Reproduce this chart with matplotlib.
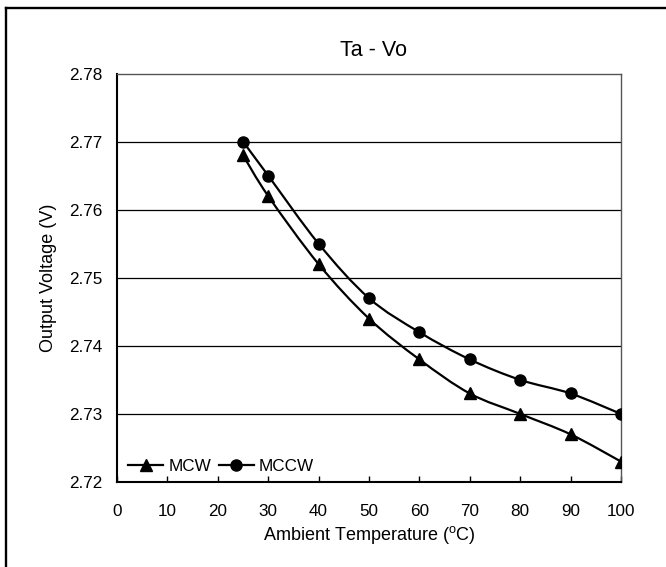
import numpy as np
import matplotlib
matplotlib.use("Agg")
import matplotlib.pyplot as plt
from matplotlib.path import Path
from matplotlib.patches import PathPatch
from matplotlib.lines import Line2D

# ---- data ----
temperature = [25, 30, 40, 50, 60, 70, 80, 90, 100]
mcw = [2.768, 2.762, 2.752, 2.744, 2.738, 2.733, 2.730, 2.727, 2.723]
mccw = [2.770, 2.765, 2.755, 2.747, 2.742, 2.738, 2.735, 2.733, 2.730]
x_ticks = [0, 10, 20, 30, 40, 50, 60, 70, 80, 90, 100]
y_ticks = [2.72, 2.73, 2.74, 2.75, 2.76, 2.77, 2.78]
title = "Ta - Vo"
x_label = r"Ambient Temperature ($^{\mathregular{o}}$C)"
y_label = "Output Voltage (V)"
series_names = ["MCW", "MCCW"]

plt.rcParams["font.family"] = ["Liberation Sans", "DejaVu Sans"]
plt.rcParams["mathtext.fontset"] = "custom"
plt.rcParams["mathtext.rm"] = "Liberation Sans"
plt.rcParams["mathtext.it"] = "Liberation Sans:italic"

W, H = 666, 567
fig = plt.figure(figsize=(W / 100, H / 100), dpi=100)
L, R, T, B = 117, 621, 73.5, 482
ax = fig.add_axes([L / W, 1 - B / H, (R - L) / W, (B - T) / H])


def smooth_path(xs, ys):
    P = np.column_stack([xs, ys]).astype(float)
    n = len(P)
    verts = [P[0]]
    codes = [Path.MOVETO]
    for i in range(n - 1):
        p0 = P[i - 1] if i > 0 else P[i]
        p1 = P[i]
        p2 = P[i + 1]
        p3 = P[i + 2] if i + 2 < n else P[i + 1]
        c1 = p1 + (p2 - p0) / 6.0
        c2 = p2 - (p3 - p1) / 6.0
        verts += [c1, c2, p2]
        codes += [Path.CURVE4] * 3
    return Path(verts, codes)


for ys, mk, ms in [(mcw, "^", 9), (mccw, "o", 8)]:
    ax.add_patch(PathPatch(smooth_path(temperature, ys), fill=False,
                           edgecolor="black", lw=1.6, zorder=3))
    ax.plot(temperature, ys, linestyle="none", marker=mk, ms=ms,
            color="black", zorder=4)

ax.set_xlim(0, 100)
ax.set_ylim(2.72, 2.78)
ax.set_xticks(x_ticks)
ax.set_yticks(y_ticks)
ax.set_yticklabels([f"{v:.2f}" for v in y_ticks])
ax.tick_params(axis="x", direction="in", length=4, width=1, pad=15.5,
               labelsize=12.3, color="black")
ax.tick_params(axis="y", length=0, pad=10.8, labelsize=12.3)

for v in y_ticks[1:-1]:
    ax.axhline(v, color="black", lw=0.9, zorder=1)

for s in ["left", "bottom"]:
    ax.spines[s].set_linewidth(1.5)
    ax.spines[s].set_color("black")
for s in ["top", "right"]:
    ax.spines[s].set_linewidth(1.0)
    ax.spines[s].set_color("#555555")

ax.set_xlabel(x_label, fontsize=13, va="center")
ax.xaxis.set_label_coords(0.5, (B - 535) / (B - T))
ax.set_ylabel(y_label, fontsize=13, va="center")
ax.yaxis.set_label_coords((48.5 - L) / (R - L), 0.5)

ax.text((374 - L) / (R - L), (B - 50.5) / (B - T), title, transform=ax.transAxes,
        ha="center", va="center", fontsize=15.5)

handles = [Line2D([], [], color="black", lw=1.6, marker="^", ms=9),
           Line2D([], [], color="black", lw=1.6, marker="o", ms=8)]
ax.legend(handles, series_names, loc="center left",
          bbox_to_anchor=((128 - L) / (R - L), (B - 466.5) / (B - T)),
          ncol=2, frameon=False, borderpad=0, borderaxespad=0,
          handlelength=2.05, handletextpad=0.3, columnspacing=0.45,
          fontsize=12.3)

# figure frame (left and top edges visible)
fig.add_artist(Line2D([6.2 / W, 6.2 / W], [0, 1 - 8 / H], transform=fig.transFigure,
                      color="black", lw=1.7))
fig.add_artist(Line2D([6.2 / W, 1], [1 - 8 / H, 1 - 8 / H], transform=fig.transFigure,
                      color="black", lw=1.7))

fig.savefig("out.png", dpi=100)
